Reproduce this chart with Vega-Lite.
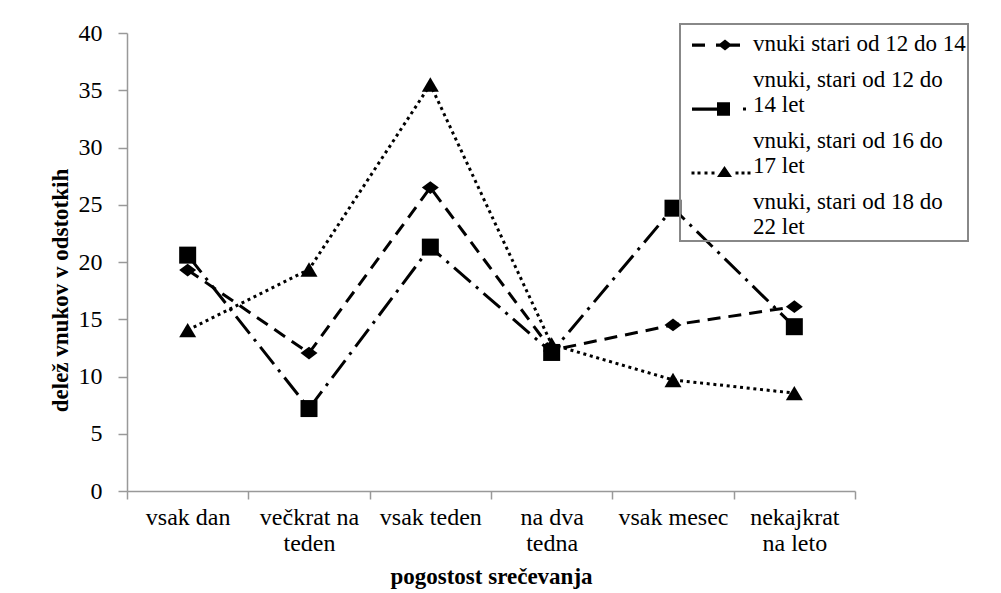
{
  "$schema": "https://vega.github.io/schema/vega-lite/v6.json",
  "width": 728,
  "height": 458,
  "autosize": {"type": "none"},
  "padding": {"left": 127, "top": 33, "right": 146, "bottom": 102},
  "background": "white",
  "config": {
    "font": "Liberation Serif",
    "view": {"stroke": null},
    "legend": {"strokeWidth": 2},
    "axis": {
      "labelFont": "Liberation Serif",
      "titleFont": "Liberation Serif",
      "labelColor": "black",
      "titleColor": "black",
      "domainColor": "#999999",
      "tickColor": "#999999",
      "domainWidth": 1.5,
      "tickWidth": 1.5,
      "grid": false
    }
  },
  "data": {
    "values": [
      {"freq": "vsak dan", "series": "vnuki stari od 12 do 14 let", "value": 19.3},
      {"freq": "večkrat na teden", "series": "vnuki stari od 12 do 14 let", "value": 12.05},
      {"freq": "vsak teden", "series": "vnuki stari od 12 do 14 let", "value": 26.5},
      {"freq": "na dva tedna", "series": "vnuki stari od 12 do 14 let", "value": 12.3},
      {"freq": "vsak mesec", "series": "vnuki stari od 12 do 14 let", "value": 14.5},
      {"freq": "nekajkrat na leto", "series": "vnuki stari od 12 do 14 let", "value": 16.1},
      {"freq": "vsak dan", "series": "vnuki, stari od 12 do 14 let", "value": 20.6},
      {"freq": "večkrat na teden", "series": "vnuki, stari od 12 do 14 let", "value": 7.2},
      {"freq": "vsak teden", "series": "vnuki, stari od 12 do 14 let", "value": 21.3},
      {"freq": "na dva tedna", "series": "vnuki, stari od 12 do 14 let", "value": 12.1},
      {"freq": "vsak mesec", "series": "vnuki, stari od 12 do 14 let", "value": 24.7},
      {"freq": "nekajkrat na leto", "series": "vnuki, stari od 12 do 14 let", "value": 14.35},
      {"freq": "vsak dan", "series": "vnuki, stari od 16 do 17 let", "value": 14.05},
      {"freq": "večkrat na teden", "series": "vnuki, stari od 16 do 17 let", "value": 19.35},
      {"freq": "vsak teden", "series": "vnuki, stari od 16 do 17 let", "value": 35.5},
      {"freq": "na dva tedna", "series": "vnuki, stari od 16 do 17 let", "value": 12.8},
      {"freq": "vsak mesec", "series": "vnuki, stari od 16 do 17 let", "value": 9.7},
      {"freq": "nekajkrat na leto", "series": "vnuki, stari od 16 do 17 let", "value": 8.55}
    ]
  },
  "layer": [
    {
      "mark": {"type": "line", "color": "black", "strokeWidth": 3},
      "encoding": {
        "x": {
          "field": "freq",
          "type": "nominal",
          "sort": null,
          "bandPosition": 0.5,
          "scale": {"type": "band", "paddingInner": 0, "paddingOuter": 0},
          "axis": {
            "title": "pogostost srečevanja",
            "titleFontSize": 23,
            "titleFontWeight": "bold",
            "titlePadding": 10,
            "labelAngle": 0,
            "labelFontSize": 24,
            "labelLineHeight": 26,
            "labelBaseline": "top",
            "labelPadding": 6,
            "tickSize": 8,
            "tickBand": "extent",
            "labelExpr": "datum.label == 'večkrat na teden' ? ['večkrat na', 'teden'] : datum.label == 'na dva tedna' ? ['na dva', 'tedna'] : datum.label == 'nekajkrat na leto' ? ['nekajkrat', 'na leto'] : datum.label"
          }
        },
        "y": {
          "field": "value",
          "type": "quantitative",
          "scale": {"domain": [0, 40], "nice": false},
          "axis": {
            "values": [0, 5, 10, 15, 20, 25, 30, 35, 40],
            "title": "delež vnukov v odstotkih",
            "titleFontSize": 23,
            "titleFontWeight": "bold",
            "titleAngle": -90,
            "titleBaseline": "bottom",
            "titleAlign": "center",
            "titleX": -55,
            "titleY": 257,
            "labelFontSize": 24,
            "labelPadding": 16,
            "tickSize": 9
          }
        },
        "strokeDash": {
          "field": "series",
          "type": "nominal",
          "scale": {
            "domain": ["vnuki stari od 12 do 14 let", "vnuki, stari od 12 do 14 let", "vnuki, stari od 16 do 17 let"],
            "range": [[13, 8], [22, 7, 3, 7], [3, 3.7]]
          },
          "legend": null
        }
      }
    },
    {
      "mark": {"type": "point", "filled": true, "color": "black", "opacity": 1, "size": 289},
      "encoding": {
        "x": {"field": "freq", "type": "nominal", "sort": null, "bandPosition": 0.5},
        "y": {"field": "value", "type": "quantitative"},
        "shape": {
          "field": "series",
          "type": "nominal",
          "scale": {
            "domain": ["vnuki stari od 12 do 14 let", "vnuki, stari od 12 do 14 let", "vnuki, stari od 16 do 17 let"],
            "range": ["M-1,0L0,-0.75L1,0L0,0.75Z", "square", "M0,-0.85L1,0.85L-1,0.85Z"]
          },
          "legend": null
        }
      }
    },
    {
      "transform": [{"filter": {"field": "value", "lt": -100}}],
      "mark": {"type": "point", "filled": true, "color": "black", "opacity": 1},
      "encoding": {
        "shape": {
          "field": "series",
          "type": "nominal",
          "scale": {
            "domain": ["vnuki stari od 12 do 14 let", "vnuki, stari od 12 do 14 let", "vnuki, stari od 16 do 17 let", "vnuki, stari od 18 do 22 let"],
            "range": [
              "M-0.6,-0.305L-0.08,-0.305L-0.08,-0.175L-0.6,-0.175ZM0.36,-0.305L1.32,-0.305L1.32,-0.175L0.36,-0.175ZM0.44,-0.24L0.72,-0.46L1,-0.24L0.72,-0.02Z",
              "M-0.6,0.815L0.5,0.815L0.5,0.945L-0.6,0.945ZM0.4,0.61L0.92,0.61L0.92,1.15L0.4,1.15ZM1.44,0.82L1.56,0.82L1.56,0.94L1.44,0.94Z",
              "M-0.62,0.94L-0.5,0.94L-0.5,1.06L-0.62,1.06ZM-0.38,0.94L-0.26,0.94L-0.26,1.06L-0.38,1.06ZM-0.1,0.94L0.02,0.94L0.02,1.06L-0.1,1.06ZM0.18,0.94L0.3,0.94L0.3,1.06L0.18,1.06ZM0.4,1.16L0.7,0.72L1,1.16ZM1.14,0.94L1.26,0.94L1.26,1.06L1.14,1.06ZM1.38,0.94L1.5,0.94L1.5,1.06L1.38,1.06ZM1.62,0.94L1.74,0.94L1.74,1.06L1.62,1.06Z",
              "M0,0"
            ]
          },
          "legend": {
            "title": null,
            "orient": "none",
            "legendX": 553,
            "legendY": -9,
            "strokeColor": "#888888",
            "padding": 2,
            "symbolSize": 2500,
            "symbolStrokeWidth": 0,
            "symbolFillColor": "black",
            "symbolOpacity": 1,
            "labelFont": "Liberation Serif",
            "labelFontSize": 23,
            "labelLineHeight": 21,
            "labelColor": "black",
            "labelBaseline": "alphabetic",
            "labelOffset": 21,
            "labelLimit": 500,
            "rowPadding": 6,
            "labelExpr": "datum.label == 'vnuki stari od 12 do 14 let' ? ['vnuki stari od 12 do 14'] : datum.label == 'vnuki, stari od 12 do 14 let' ? ['vnuki, stari od 12 do', '14 let'] : datum.label == 'vnuki, stari od 16 do 17 let' ? ['vnuki, stari od 16 do', '17 let'] : ['vnuki, stari od 18 do', '22 let']"
          }
        }
      }
    }
  ],
  "resolve": {"scale": {"shape": "independent", "strokeDash": "independent"}}
}
